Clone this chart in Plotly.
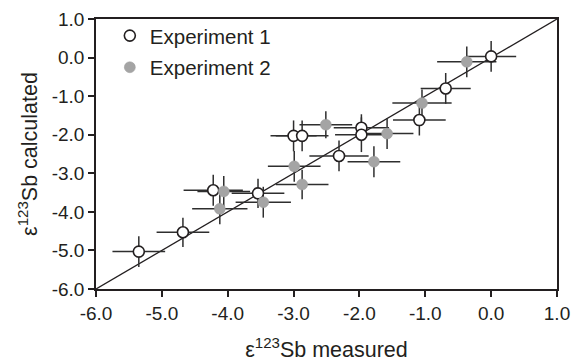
import plotly.graph_objects as go

# Experiment 1 (open circles)
exp1_measured = [0.0, -0.69, -1.09, -1.97, -1.97, -3.0, -2.87, -2.31, -3.54, -4.22, -4.68, -5.35]
exp1_calculated = [0.03, -0.80, -1.62, -1.82, -2.0, -2.03, -2.03, -2.55, -3.52, -3.44, -4.53, -5.03]
exp1_err_x = [0.38, 0.38, 0.40, 0.42, 0.40, 0.35, 0.40, 0.45, 0.40, 0.45, 0.40, 0.40]
exp1_err_y = [0.40, 0.40, 0.40, 0.35, 0.45, 0.40, 0.40, 0.40, 0.38, 0.40, 0.38, 0.40]

# Experiment 2 (grey filled circles)
exp2_measured = [-0.37, -1.05, -1.58, -1.78, -2.51, -2.99, -2.87, -4.06, -3.46, -4.12]
exp2_calculated = [-0.11, -1.18, -1.97, -2.70, -1.74, -2.82, -3.29, -3.47, -3.75, -3.92]
exp2_err_x = [0.45, 0.45, 0.40, 0.40, 0.40, 0.40, 0.40, 0.40, 0.42, 0.42]
exp2_err_y = [0.40, 0.35, 0.40, 0.40, 0.35, 0.40, 0.38, 0.40, 0.40, 0.40]

tick_vals = [-6, -5, -4, -3, -2, -1, 0, 1]
tick_text = ["-6.0", "-5.0", "-4.0", "-3.0", "-2.0", "-1.0", "0.0", "1.0"]
one_to_one = [-6, 1]

ink = "#231f20"
font = "Liberation Sans, Arial, Helvetica, sans-serif"

fig = go.Figure()

# 1:1 line
fig.add_trace(go.Scatter(x=one_to_one, y=one_to_one, mode="lines",
                         line=dict(color=ink, width=1.3), showlegend=False, hoverinfo="skip"))

# error bars (drawn beneath all markers)
for xs, ys, ex, ey in [(exp1_measured, exp1_calculated, exp1_err_x, exp1_err_y),
                       (exp2_measured, exp2_calculated, exp2_err_x, exp2_err_y)]:
    fig.add_trace(go.Scatter(
        x=xs, y=ys, mode="markers",
        marker=dict(size=1, color="rgba(0,0,0,0)"),
        error_x=dict(type="data", array=ex, visible=True, width=0, thickness=1.5, color="#2e2e2e"),
        error_y=dict(type="data", array=ey, visible=True, width=0, thickness=1.5, color="#2e2e2e"),
        showlegend=False, hoverinfo="skip"))

fig.add_trace(go.Scatter(
    x=exp1_measured, y=exp1_calculated, mode="markers", name="Experiment 1",
    legendgroup="e1",
    marker=dict(symbol="circle", size=11, color="white", line=dict(color=ink, width=1.6))))

fig.add_trace(go.Scatter(
    x=exp2_measured, y=exp2_calculated, mode="markers", name="Experiment 2",
    legendgroup="e2",
    marker=dict(symbol="circle", size=11, color="#a4a4a4", line=dict(color="#9a9a9a", width=0.5))))

axis_common = dict(
    range=[-6, 1], tickvals=tick_vals, ticktext=tick_text, automargin=False,
    showgrid=False, zeroline=False, showline=True, linecolor=ink, linewidth=1.5,
    mirror=True, ticks="outside", ticklen=6, tickwidth=1.5, tickcolor=ink,
    tickfont=dict(family=font, size=19, color=ink),
)

fig.update_layout(
    width=574, height=362,
    margin=dict(l=96, r=17, t=19, b=73),
    paper_bgcolor="white", plot_bgcolor="white",
    font=dict(family=font, color=ink, size=18),
    xaxis=dict(**axis_common,
               title=dict(text="ε<sup>123</sup>Sb measured", font=dict(family=font, size=21.5, color=ink),
                          standoff=24)),
    yaxis=dict(**axis_common,
               title=dict(text="ε<sup>123</sup>Sb calculated", font=dict(family=font, size=21.5, color=ink),
                          standoff=8)),
    legend=dict(x=0.03, y=1.012, xanchor="left", yanchor="top",
                bgcolor="rgba(0,0,0,0)", font=dict(family=font, size=20.5, color=ink),
                traceorder="grouped", tracegroupgap=2, itemwidth=30),
    showlegend=True,
)

# remove the default page margin so the 574x362 figure fills the window exactly
fig.write_html("out.html",
               config={"displayModeBar": False},
               post_script="document.body.style.margin='0';document.body.style.overflow='hidden';")
